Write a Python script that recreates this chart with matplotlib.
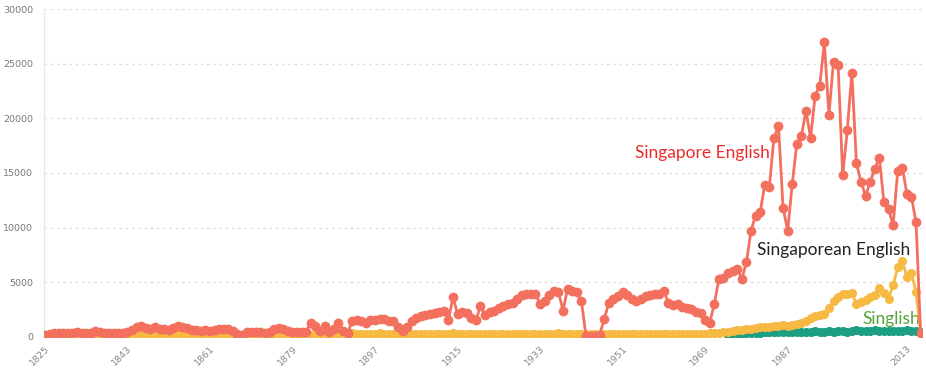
import matplotlib.pyplot as plt
import numpy as np

# yearly counts, 1825-2016
years = list(range(1825, 2017))

singapore_english = [
    150, 250, 300, 300, 300, 350, 350, 400, 350, 300,          # 1825-1834
    350, 500, 400, 300, 300, 300, 300, 350, 450, 600,          # 1835-1844
    900, 1000, 800, 700, 900, 700, 750, 600, 800, 950,         # 1845-1854
    900, 800, 650, 600, 550, 600, 500, 600, 700, 750,          # 1855-1864
    700, 550, 250, 200, 400, 450, 400, 450, 350, 450,          # 1865-1874
    700, 800, 750, 500, 450, 400, 400, 450, 1300, 1000,        # 1875-1884
    550, 1000, 400, 700, 1300, 550, 300, 1450, 1500, 1400,     # 1885-1894
    1300, 1500, 1500, 1650, 1600, 1450, 1400, 900, 550, 900,   # 1895-1904
    1400, 1750, 1900, 2000, 2100, 2200, 2300, 2400, 1500, 3600,  # 1905-1914
    2100, 2300, 2200, 1700, 1500, 2800, 2000, 2300, 2400, 2600,  # 1915-1924
    2800, 3000, 3100, 3500, 3800, 3950, 3900, 3900, 3000, 3300,  # 1925-1934
    3800, 4200, 4100, 2400, 4400, 4200, 4100, 3300, 100, 100,    # 1935-1944
    100, 150, 1650, 3100, 3500, 3700, 4100, 3800, 3500, 3300,    # 1945-1954
    3500, 3700, 3800, 3900, 3900, 4150, 3100, 2900, 3000, 2700,  # 1955-1964
    2600, 2500, 2300, 2200, 1500, 1300, 3000, 5300, 5400, 5800,  # 1965-1974
    6000, 6200, 5300, 6800, 9700, 11100, 11400, 13900, 13700, 18200,  # 1975-1984
    19300, 11800, 9700, 14000, 17700, 18400, 20700, 18200, 22100, 23000,  # 1985-1994
    27000, 20300, 25200, 24900, 14800, 18900, 24200, 15900, 14200, 12900,  # 1995-2004
    14200, 15400, 16400, 12300, 11700, 10200, 15200, 15500, 13100, 12800,  # 2005-2014
    10500, 300,                                                 # 2015-2016
]

singaporean_english = [
    50, 50, 50, 50, 50, 50, 50, 50, 50, 50,
    50, 50, 50, 50, 50, 50, 50, 50, 50, 80,
    100, 150, 200, 150, 100, 100, 150, 250, 300, 300,
    250, 100, 50, 50, 50, 50, 50, 50, 50, 50,
    50, 50, 50, 50, 50, 50, 50, 50, 50, 50,
    50, 50, 50, 50, 50, 50, 50, 400, 200, 150,
    150, 200, 150, 250, 250, 250, 250, 300, 250, 250,
    250, 250, 250, 300, 250, 250, 250, 250, 250, 250,
    250, 250, 250, 250, 250, 250, 250, 250, 250, 300,
    250, 250, 250, 250, 250, 250, 250, 250, 250, 250,
    250, 250, 250, 250, 250, 250, 250, 250, 250, 250,
    250, 250, 300, 250, 250, 250, 250, 250, 250, 250,
    250, 250, 250, 250, 250, 250, 250, 250, 250, 250,
    250, 250, 250, 250, 250, 250, 250, 250, 250, 250,
    250, 250, 250, 250, 250, 300, 300, 350, 400, 450,
    500, 600, 650, 700, 750, 800, 850, 850, 900, 1000,
    1000, 1100, 1000, 1100, 1200, 1300, 1400, 1700, 1900, 2000,
    2100, 2600, 3300, 3600, 3900, 3950, 4050, 3000, 3150, 3400,
    3600, 3800, 4500, 4000, 3500, 4700, 6400, 6900, 5500, 5800,
    4100, 300,
]

nan = np.nan
singlish = [nan] * 149 + [
    200,                                                        # 1974
    350, 300, 250, 300, 350, 350, 350, 400, 400, 400,           # 1975-1984
    400, 400, 400, 450, 450, 450, 450, 450, 500, 450,           # 1985-1994
    450, 500, 450, 500, 500, 450, 500, 600, 500, 500,           # 1995-2004
    550, 650, 500, 500, 500, 550, 550, 500, 600, 550,           # 2005-2014
    550, 400,                                                   # 2015-2016
]

tick_years = [1825, 1843, 1861, 1879, 1897, 1915, 1933, 1951, 1969, 1987, 2013]
y_ticks = [0, 5000, 10000, 15000, 20000, 25000, 30000]

red = '#f36f5e'
yellow = '#f6b942'
teal = '#1b9e82'

fig = plt.figure(figsize=(9.26, 3.72), dpi=100)
ax = fig.add_axes([44 / 926, 1 - 336.7 / 372, 878 / 926, 327.4 / 372])

# first series drawn on top, like the original
ax.plot(years, singlish, color=teal, lw=2, marker='o', ms=5.5, zorder=3)
ax.plot(years, singaporean_english, color=yellow, lw=2, marker='o', ms=5.5, zorder=4)
ax.plot(years, singapore_english, color=red, lw=2, marker='o', ms=6, zorder=5)

ax.set_xlim(1824.8, 2016.3)
ax.set_ylim(0, 30000)
ax.set_yticks(y_ticks)
ax.set_yticklabels([str(v) for v in y_ticks], color='#777777', fontsize=6.8)
ax.set_xticks(tick_years)
ax.set_xticklabels([str(y) for y in tick_years], rotation=45, ha='right',
                   rotation_mode='anchor', color='#888888', fontsize=6.8)
ax.tick_params(axis='both', length=0)
ax.tick_params(axis='y', pad=8)
ax.tick_params(axis='x', pad=5)

ax.grid(axis='y', color='#dddddd', linestyle=(0, (2, 3)), lw=0.9)
ax.set_axisbelow(True)
for s in ['top', 'right', 'bottom']:
    ax.spines[s].set_visible(False)
ax.spines['left'].set_color('#e6e6e6')

ax.text(1953.7, 16800, 'Singapore English', color='#ee2a2a', fontsize=12.5,
        family='Lato', va='center', ha='left')
ax.text(1980.3, 7900, 'Singaporean English', color='#222222', fontsize=12.5,
        family='Lato', va='center', ha='left')
ax.text(2003.2, 1650, 'Singlish', color='#55a33b', fontsize=12.5,
        family='Lato', va='center', ha='left')

fig.savefig('out.png', dpi=100)
